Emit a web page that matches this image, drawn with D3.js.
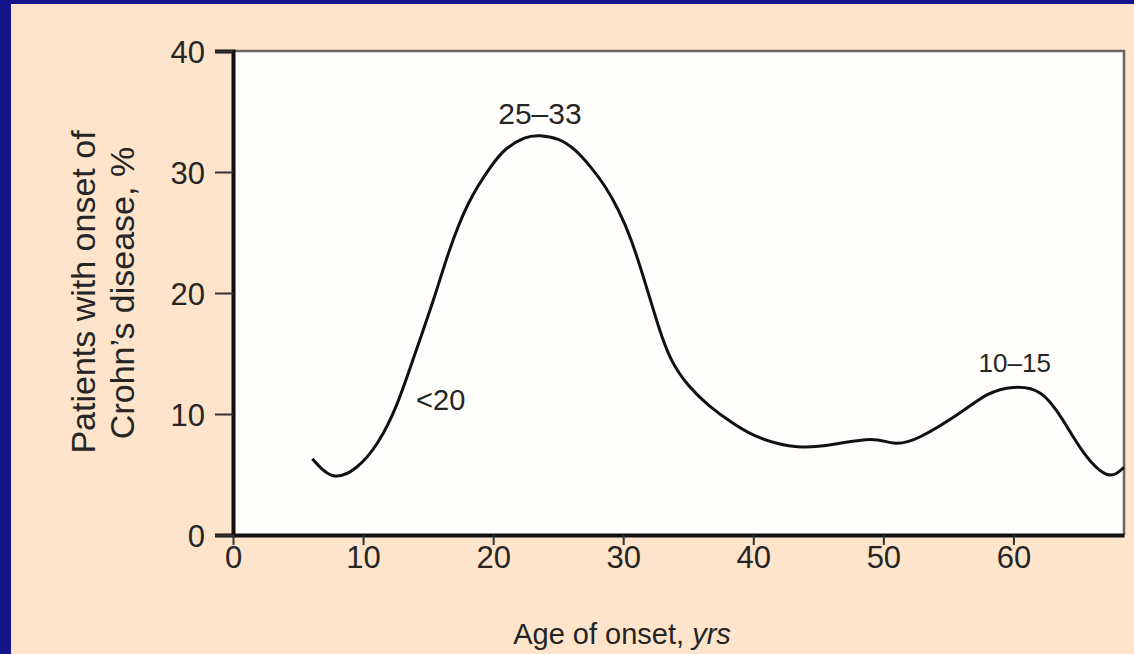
<html>
<head>
  <script src="https://d3js.org/d3.v7.min.js"></script>
  <style>
    body { margin: 0; background: #16168c; }
    svg { display: block; }
    .tick text { font-family: "Liberation Sans", Arial, sans-serif; fill: #252525; }
    .lbl { font-family: "Liberation Sans", Arial, sans-serif; fill: #252525; }
  </style>
</head>
<body>
<svg id="chart" width="1134" height="654"></svg>
<script>
  // age of onset (yrs) and share of patients (%)
  const ages = [6.1, 7.7, 9.5, 11.1, 12.6, 14.0, 15.4, 16.6, 18.1, 19.8, 21.0, 22.4, 23.6,
    25.0, 26.3, 27.5, 28.6, 29.6, 30.6, 31.7, 32.7, 33.7, 35.0, 36.6, 38.5, 40.6, 43.4, 46.2, 49.0,
    50.8, 52.8, 55.9, 58.0, 60.0, 62.1, 63.8, 65.4, 67.2, 68.5];
  const pct = [6.3, 4.9, 5.6, 7.6, 10.8, 15.0, 19.4, 23.4, 27.4, 30.4, 31.9, 32.8, 33.0,
    32.7, 31.8, 30.4, 28.8, 26.9, 24.4, 20.8, 17.3, 14.5, 12.4, 10.7, 9.2, 8.0, 7.3, 7.5, 7.9,
    7.6, 8.1, 10.1, 11.6, 12.2, 11.7, 9.5, 6.8, 5.0, 5.6];
  const xTicks = [0, 10, 20, 30, 40, 50, 60];
  const yTicks = [0, 10, 20, 30, 40];
  const notes = [
    { age: 23.6, val: 33, text: "25\u201333", size: 30 },
    { age: 60.1, val: 12.2, text: "10\u201315", size: 26 },
    { age: 14.0, val: 11.2, text: "<20", size: 29 }
  ];

  const svg = d3.select("#chart");
  const pLeft = 233, pRight = 1124, pTop = 51, pBottom = 535;

  const x = d3.scaleLinear().domain([0, 68.5]).range([pLeft, pRight]);
  const y = d3.scaleLinear().domain([0, 40]).range([pBottom, pTop]);

  // peach panel and white plot area
  svg.append("rect").attr("x", 11).attr("y", 4).attr("width", 1123).attr("height", 650)
    .attr("fill", "#fde4cb");
  svg.append("rect").attr("x", pLeft).attr("y", pTop).attr("width", pRight - pLeft).attr("height", pBottom - pTop)
    .attr("fill", "#fffefc");

  // top and right frame
  svg.append("path")
    .attr("d", `M${pLeft},${pTop}H${pRight}V${pBottom}`)
    .attr("fill", "none").attr("stroke", "#6a6660").attr("stroke-width", 2.5);

  const yAxis = svg.append("g")
    .attr("transform", `translate(${pLeft},0)`)
    .call(d3.axisLeft(y).tickValues(yTicks).tickSize(18).tickPadding(10));
  yAxis.selectAll("text").style("font-size", "31px").attr("dy", "0.36em");
  yAxis.selectAll(".tick line").attr("stroke", "#333").attr("stroke-width", 2);
  yAxis.select(".domain").attr("stroke", "#111").attr("stroke-width", 4);

  const xAxis = svg.append("g")
    .attr("transform", `translate(0,${pBottom})`)
    .call(d3.axisBottom(x).tickValues(xTicks).tickSize(10).tickPadding(1).tickSizeOuter(0));
  xAxis.selectAll("text").style("font-size", "31px");
  xAxis.selectAll(".tick line").attr("stroke", "#333").attr("stroke-width", 2);
  xAxis.select(".domain").attr("stroke", "#111").attr("stroke-width", 4);

  // curve
  const line = d3.line()
    .x((d, i) => x(ages[i]))
    .y(d => y(d))
    .curve(d3.curveNatural);
  svg.append("path")
    .attr("d", line(pct))
    .attr("fill", "none")
    .attr("stroke", "#111")
    .attr("stroke-width", 3);

  // annotations
  svg.append("text").attr("class", "lbl")
    .attr("x", x(notes[0].age)).attr("y", y(notes[0].val) - 12)
    .attr("text-anchor", "middle").style("font-size", notes[0].size + "px").text(notes[0].text);
  svg.append("text").attr("class", "lbl")
    .attr("x", x(notes[1].age)).attr("y", y(notes[1].val) - 15)
    .attr("text-anchor", "middle").style("font-size", notes[1].size + "px").text(notes[1].text);
  svg.append("text").attr("class", "lbl")
    .attr("x", x(notes[2].age) + 1).attr("y", y(notes[2].val))
    .attr("dy", "0.35em")
    .attr("text-anchor", "start").style("font-size", notes[2].size + "px").text(notes[2].text);

  // axis titles
  const xt = svg.append("text").attr("class", "lbl")
    .attr("x", 622).attr("y", 644)
    .attr("text-anchor", "middle").style("font-size", "29px");
  xt.append("tspan").text("Age of onset, ");
  xt.append("tspan").style("font-style", "italic").text("yrs");

  svg.append("text").attr("class", "lbl")
    .attr("transform", "translate(95,292) rotate(-90)")
    .attr("text-anchor", "middle").style("font-size", "34px")
    .text("Patients with onset of");
  svg.append("text").attr("class", "lbl")
    .attr("transform", "translate(134,293) rotate(-90)")
    .attr("text-anchor", "middle").style("font-size", "34px")
    .text("Crohn\u2019s disease, %");
</script>
</body>
</html>
